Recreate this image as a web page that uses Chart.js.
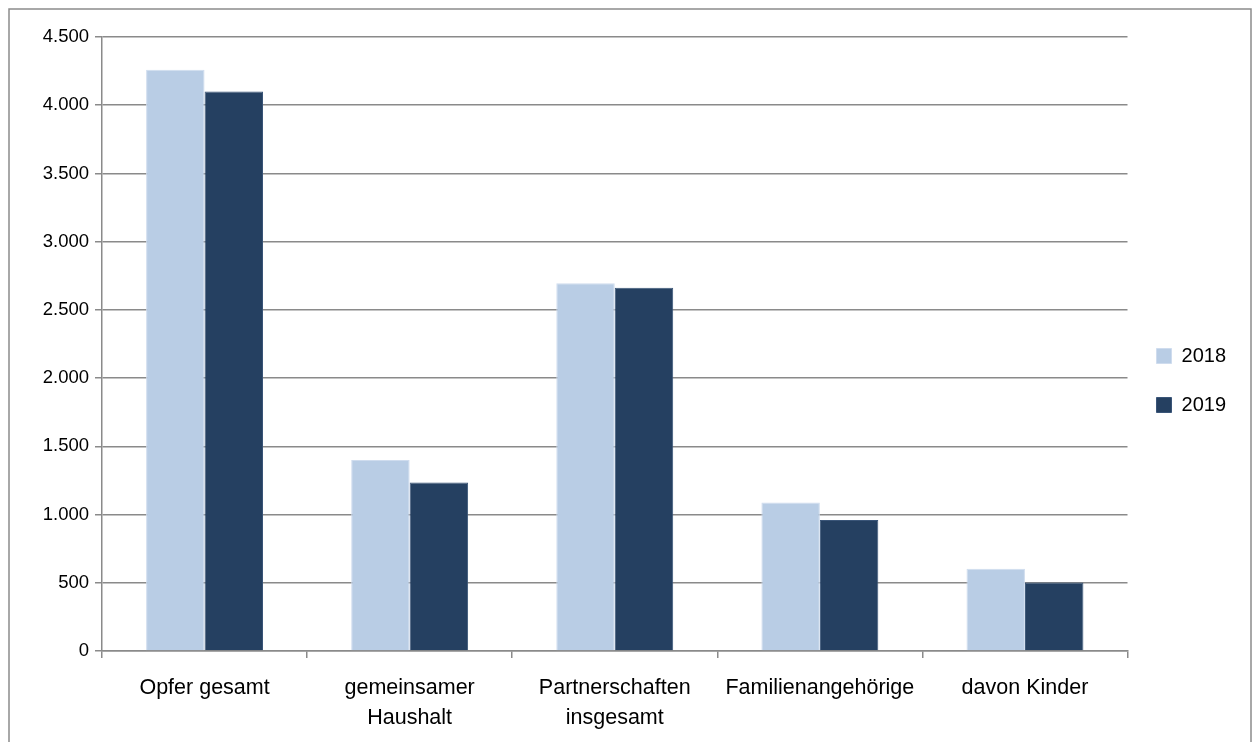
<!DOCTYPE html>
<html lang="de">
<head>
<meta charset="utf-8">
<title>Opfer 2018 / 2019</title>
<script src="https://cdn.jsdelivr.net/npm/chart.js@4.4.1/dist/chart.umd.min.js"></script>
<style>
  html, body { margin: 0; padding: 0; background: #ffffff; }
  #wrap { position: relative; width: 1260px; height: 742px; }
  canvas { display: block; }
</style>
</head>
<body>
<div id="wrap"><canvas id="chart" width="1260" height="742"></canvas></div>
<script>
// Kategorien (mehrzeilige Beschriftungen als Arrays)
const categories = [
  'Opfer gesamt',
  ['gemeinsamer', 'Haushalt'],
  ['Partnerschaften', 'insgesamt'],
  'Familienangehörige',
  'davon Kinder'
];
const seriesNames = ['2018', '2019'];
const values2018 = [4260, 1400, 2695, 1088, 602];
const values2019 = [4100, 1235, 2663, 961, 502];
const yTicks = [0, 500, 1000, 1500, 2000, 2500, 3000, 3500, 4000, 4500];

const FONT = '"Liberation Sans", Arial, sans-serif';
const GRID = '#8a8a8a';

function fmtDe(v) {
  return String(v).replace(/\B(?=(\d{3})+(?!\d))/g, '.');
}

// Rahmen um die gesamte Grafik
const framePlugin = {
  id: 'frame',
  beforeDraw(chart) {
    const c = chart.ctx;
    c.save();
    c.fillStyle = '#ffffff';
    c.fillRect(0, 0, chart.width, chart.height);
    c.strokeStyle = '#8c8c8c';
    c.lineWidth = 1.5;
    c.beginPath();
    c.moveTo(9, chart.height + 5);
    c.lineTo(9, 9);
    c.lineTo(1251, 9);
    c.lineTo(1251, chart.height + 5);
    c.stroke();
    c.restore();
  }
};

// Legende etwas oberhalb der Mitte platzieren
const legendShift = {
  id: 'legendShift',
  afterLayout(chart) {
    const lg = chart.legend;
    if (lg) { lg.top -= 9; lg.bottom -= 9; }
  }
};

new Chart(document.getElementById('chart'), {
  type: 'bar',
  data: {
    labels: categories,
    datasets: [
      { label: seriesNames[0], data: values2018, backgroundColor: '#b9cde5', borderColor: '#cfdcee', borderWidth: 1 },
      { label: seriesNames[1], data: values2019, backgroundColor: '#254061', borderColor: '#3a5578', borderWidth: 1 }
    ]
  },
  plugins: [framePlugin, legendShift],
  options: {
    responsive: false,
    animation: false,
    devicePixelRatio: 1,
    layout: { padding: { top: 37, right: 24, bottom: 0, left: 0 } },
    datasets: { bar: { categoryPercentage: 0.57, barPercentage: 1.0 } },
    plugins: {
      legend: {
        position: 'right',
        align: 'center',
        labels: {
          color: '#000000',
          font: { family: FONT, size: 20 },
          boxWidth: 15,
          boxHeight: 15,
          padding: 29,
          useBorderRadius: false
        }
      },
      tooltip: { enabled: false }
    },
    scales: {
      x: {
        border: { display: true, color: GRID, width: 1.5 },
        grid: { display: true, offset: true, drawOnChartArea: false, drawTicks: true, tickLength: 7, color: GRID, lineWidth: 1.5 },
        ticks: { color: '#000000', font: { family: FONT, size: 21.5, lineHeight: 1.4 }, padding: 15, maxRotation: 0, autoSkip: false },
        afterFit(scale) { scale.height = 91; }
      },
      y: {
        min: 0,
        max: 4500,
        border: { display: true, color: GRID, width: 1.5 },
        grid: { color: GRID, lineWidth: 1.5, drawTicks: true, tickLength: 7 },
        afterBuildTicks(scale) { scale.ticks = yTicks.map(v => ({ value: v })); },
        ticks: {
          color: '#000000',
          font: { family: FONT, size: 18.5 },
          padding: 6,
          callback: v => fmtDe(v)
        },
        afterFit(scale) { scale.width = 102; }
      }
    }
  }
});
</script>
</body>
</html>
